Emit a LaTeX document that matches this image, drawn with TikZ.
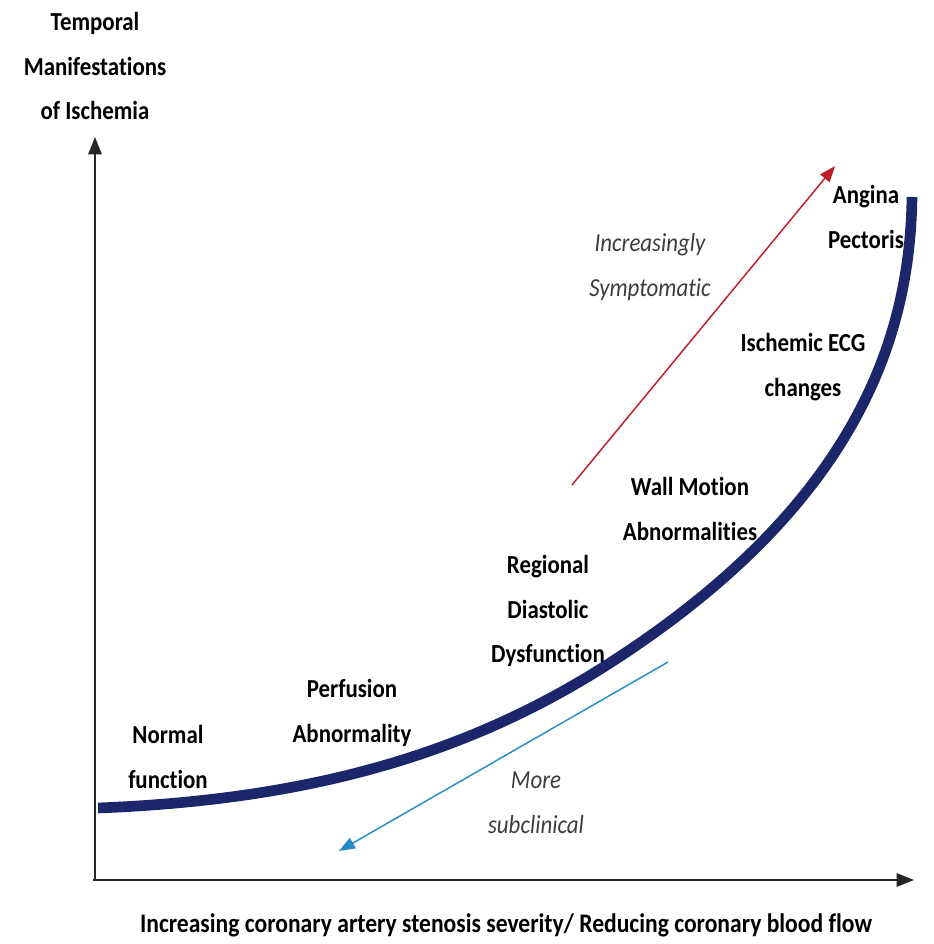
\documentclass[tikz,border=0pt]{standalone}
\usepackage{fontspec}
\setmainfont[FakeStretch=0.88, Ligatures={NoCommon}]{Carlito}
\usetikzlibrary{arrows.meta}
\definecolor{curveblue}{RGB}{28,38,106}
\definecolor{uparrow}{RGB}{192,30,40}
\definecolor{downarrow}{RGB}{40,140,200}
\definecolor{notegray}{RGB}{60,60,60}
\tikzset{
  lbl/.style={align=center, font=\bfseries\fontsize{19.5}{33.5}\selectfont, text=black, inner sep=0pt},
  note/.style={align=center, font=\itshape\fontsize{19.5}{34}\selectfont, text=notegray, inner sep=0pt},
  axis/.style={line width=1.5pt, draw=black!85, -{Triangle[length=13pt,width=10pt]}},
}
\begin{document}
\begin{tikzpicture}[x=0.75pt,y=-0.75pt]
\useasboundingbox (0,0) rectangle (933,944);

% axes
\coordinate (origin) at (93,880);
\coordinate (ytip) at (95,137);
\coordinate (xtip) at (914,880);
\draw[axis] (origin) -- (95,880) -- (ytip);
\draw[axis] (origin) -- (xtip);

% axis titles
\node[lbl] (ytitle) at (95,66) {Temporal\\Manifestations\\of Ischemia};
\node[lbl, font=\bfseries\fontsize{20.1}{33.5}\selectfont] (xtitle) at (506,925) {Increasing coronary artery stenosis severity/ Reducing coronary blood flow};

% ischemic cascade curve: two cubic pieces joined with a common tangent
\coordinate (cstart) at (98,808);
\coordinate (cmid) at (613,661);
\coordinate (cend) at (912,197);
\draw[curveblue, line width=8pt]
  (cstart) .. controls (300,800) and (463,758.5) .. (cmid)
           .. controls (863,499) and (910,330) .. (cend);

% stage labels
\node[lbl] (normal) at (168,757) {Normal\\function};
\node[lbl] (perf) at (352,713) {Perfusion\\Abnormality};
\node[lbl] (diast) at (548,611) {Regional\\Diastolic\\Dysfunction};
\node[lbl] (wall) at (690,509) {Wall Motion\\Abnormalities};
\node[lbl] (ecg) at (803,367) {Ischemic ECG\\changes};
\node[lbl] (angina) at (866,217) {Angina\\Pectoris};

% direction arrows
\coordinate (upstart) at (572,485);
\coordinate (upend) at (835,166);
\draw[uparrow, line width=1.1pt, -{Triangle[length=12pt,width=9pt]}] (upstart) -- (upend);
\node[note] (symp) at (650,267) {Increasingly\\Symptomatic};

\coordinate (downstart) at (668,662);
\coordinate (downend) at (339,851);
\draw[downarrow, line width=1.1pt, -{Triangle[length=12pt,width=9pt]}] (downstart) -- (downend);
\node[note] (subc) at (536,803) {More\\subclinical};
\end{tikzpicture}
\end{document}
